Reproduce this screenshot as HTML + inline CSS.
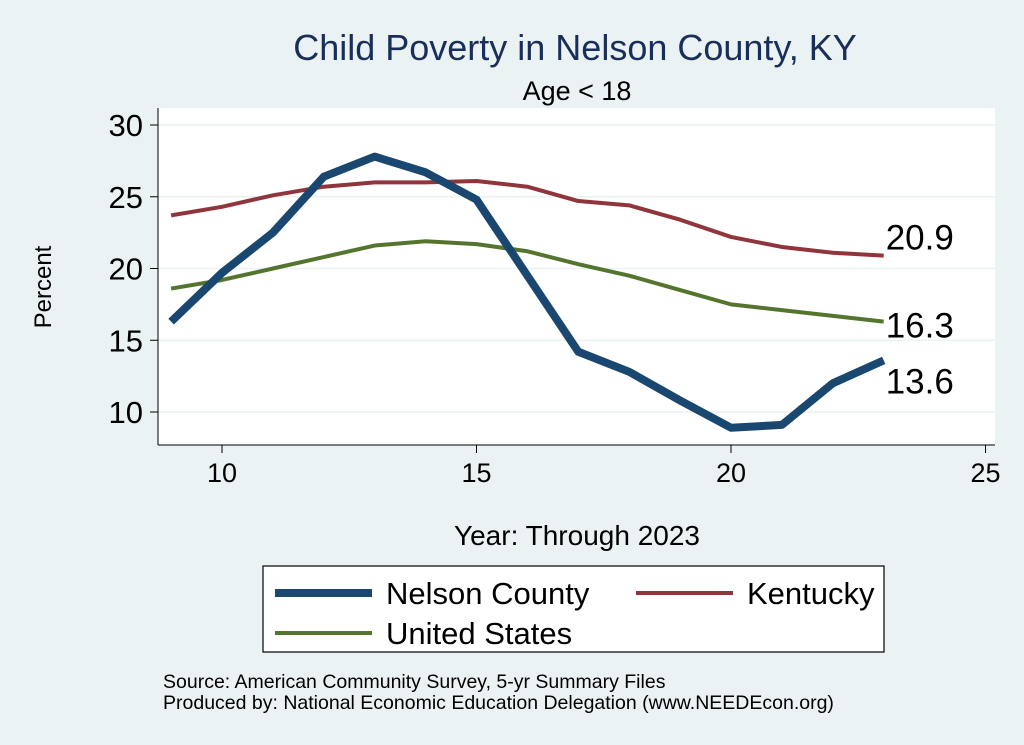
<!DOCTYPE html>
<html><head><meta charset="utf-8"><style>
body{margin:0;background:#eaf2f3;}
svg{display:block;font-family:"Liberation Sans",Arial,sans-serif;}
</style></head><body>
<svg id="chart" width="1024" height="745" viewBox="0 0 1024 745">
<rect x="0" y="0" width="1024" height="745" fill="#eaf2f3"/>
<text x="575" y="60" font-size="36" fill="#1a2e5a" text-anchor="middle">Child Poverty in Nelson County, KY</text>
<text x="577" y="100" font-size="27" fill="#000" text-anchor="middle">Age &lt; 18</text>
<rect x="158" y="108" width="837" height="337" fill="#fff"/>
<g id="grid"></g>
<g id="axes"></g>
<g id="series"></g>
<text x="577" y="545" font-size="28" text-anchor="middle">Year: Through 2023</text>
<text x="0" y="0" font-size="24" text-anchor="middle" transform="translate(51,287) rotate(-90)">Percent</text>
<g>
<rect x="263" y="566" width="621" height="86" fill="#fff" stroke="#000" stroke-width="1.2"/>
<line x1="275" y1="593" x2="372" y2="593" stroke="#1a476f" stroke-width="8"/>
<text x="386" y="604" font-size="31">Nelson County</text>
<line x1="636" y1="593" x2="733" y2="593" stroke="#90353b" stroke-width="4"/>
<text x="747" y="604" font-size="31">Kentucky</text>
<line x1="275" y1="633" x2="372" y2="633" stroke="#55752f" stroke-width="4"/>
<text x="386" y="644" font-size="31">United States</text>
</g>
<text x="163" y="688" font-size="19.5">Source: American Community Survey, 5-yr Summary Files</text>
<text x="163" y="709" font-size="19.5">Produced by: National Economic Education Delegation (www.NEEDEcon.org)</text>
</svg>
<script>
const years=[9,10,11,12,13,14,15,16,17,18,19,20,21,22,23];
const nelson=[16.3,19.7,22.5,26.4,27.8,26.7,24.8,19.5,14.2,12.8,10.8,8.9,9.1,12.0,13.6];
const kentucky=[23.7,24.3,25.1,25.7,26.0,26.0,26.1,25.7,24.7,24.4,23.4,22.2,21.5,21.1,20.9];
const us=[18.6,19.2,20.0,20.8,21.6,21.9,21.7,21.2,20.3,19.5,18.5,17.5,17.1,16.7,16.3];
const xTicks=[10,15,20,25];
const yTicks=[10,15,20,25,30];
const NS='http://www.w3.org/2000/svg';
function xs(v){return 222+(v-10)*50.9;}
function ys(v){return 412-(v-10)*14.35;}
function mk(tag,attrs,parent){const e=document.createElementNS(NS,tag);for(const k in attrs)e.setAttribute(k,attrs[k]);document.getElementById(parent).appendChild(e);return e;}
yTicks.forEach(t=>{
 const g=mk('line',{x1:158,x2:995,y1:ys(t),y2:ys(t),stroke:'#eaf2f3','stroke-width':1.5},'grid');
 
 
 const k=mk('line',{x1:150,x2:158,y1:ys(t),y2:ys(t),stroke:'#000'},'axes');
 
 
 const l=mk('text',{x:143,y:ys(t)+11,'font-size':31,'text-anchor':'end'},'axes');
 l.textContent=t;
 
 
});
xTicks.forEach(t=>{
 const k=mk('line',{x1:xs(t),x2:xs(t),y1:445,y2:453,stroke:'#000'},'axes');
 
 
 const l=mk('text',{x:xs(t),y:482,'font-size':27,'text-anchor':'middle'},'axes');
 l.textContent=t;
 
 
});
const ya=mk('line',{x1:158,x2:158,y1:108,y2:445,stroke:'#000'},'axes');


const xa=mk('line',{x1:158,x2:995,y1:445,y2:445,stroke:'#000'},'axes');


function series(vals,color,w,name){
 const d=vals.map((v,i)=>(i?'L':'M')+xs(years[i])+','+ys(v)).join(' ');
 const p=mk('path',{d:d,fill:'none',stroke:color,'stroke-width':w,'stroke-linejoin':'round'},'series');
 
 
}
series(kentucky,'#90353b',4,'kentucky');
series(us,'#55752f',4,'us');
series(nelson,'#1a476f',8,'nelson');
const n=years.length-1;
const lk=mk('text',{x:xs(years[n])+2,y:ys(kentucky[n])-6,'font-size':35},'series');
lk.textContent=kentucky[n].toFixed(1);


const lu=mk('text',{x:xs(years[n])+2,y:ys(us[n])+16,'font-size':35},'series');
lu.textContent=us[n].toFixed(1);


const ln=mk('text',{x:xs(years[n])+2,y:ys(nelson[n])+33,'font-size':35},'series');
ln.textContent=nelson[n].toFixed(1);


</script>
</body></html>
